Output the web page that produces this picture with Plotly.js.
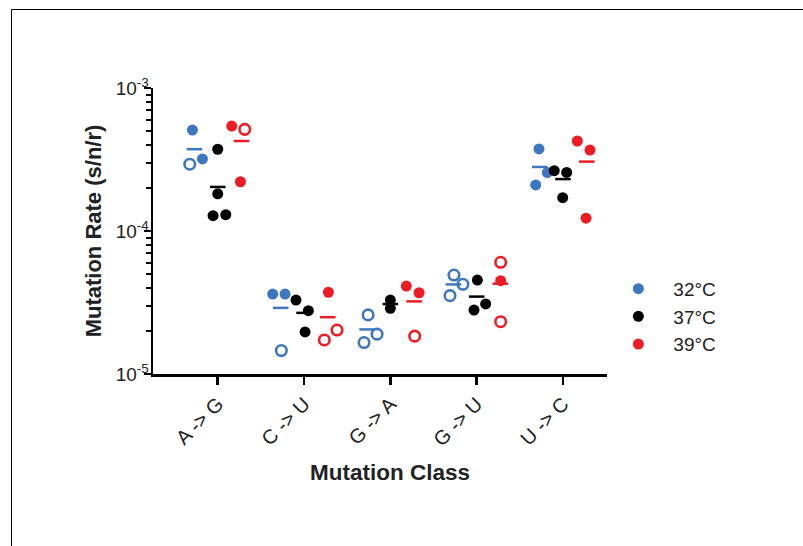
<!DOCTYPE html>
<html>
<head>
<meta charset="utf-8">
<script src="https://cdn.plot.ly/plotly-3.0.1.min.js"></script>
<style>html,body{margin:0;padding:0;background:#fff}#chart{width:803px;height:546px}</style>
</head>
<body>
<div id="chart"></div>
<script>
// ---- data ----
var categories = ['A -> G', 'C -> U', 'G -> A', 'G -> U', 'U -> C'];
var seriesNames = ['32°C', '37°C', '39°C'];

// mutation rates per category (s/n/r)
var rate32 = [[5.08e-4, 3.19e-4, 2.93e-4], [3.62e-5, 3.62e-5, 1.46e-5], [2.59e-5, 1.90e-5, 1.66e-5], [4.92e-5, 4.24e-5, 3.53e-5], [3.75e-4, 2.56e-4, 2.10e-4]];
var rate37 = [[3.73e-4, 1.82e-4, 1.28e-4, 1.30e-4], [3.29e-5, 2.77e-5, 1.97e-5], [3.29e-5, 2.88e-5], [4.54e-5, 3.09e-5, 2.80e-5], [2.64e-4, 2.57e-4, 1.71e-4]];
var rate39 = [[5.42e-4, 5.14e-4, 2.21e-4], [3.73e-5, 2.03e-5, 1.73e-5], [4.12e-5, 3.70e-5, 1.84e-5], [6.04e-5, 4.49e-5, 2.32e-5], [4.26e-4, 3.68e-4, 1.23e-4]];

// which points are drawn as open circles (1 = open)
var open32 = [[0, 0, 1], [0, 0, 1], [1, 1, 1], [1, 1, 1], [0, 0, 0]];
var open37 = [[0, 0, 0, 0], [0, 0, 0], [0, 0], [0, 0, 0], [0, 0, 0]];
var open39 = [[0, 1, 0], [0, 1, 1], [0, 0, 1], [1, 0, 1], [0, 0, 0]];

// horizontal scatter of points within their group
var jitter32 = [[-0.023, 0.093, -0.054], [-0.093, 0.05, 0.007], [0.012, 0.116, -0.035], [0.007, 0.111, -0.039], [-0.008, 0.088, -0.046]];
var jitter37 = [[0, 0, -0.054, 0.093], [-0.093, 0.05, 0.012], [0, 0], [0.008, 0.104, -0.031], [-0.101, 0.043, -0.003]];
var jitter39 = [[-0.113, 0.038, -0.012], [0.007, 0.107, -0.04], [-0.09, 0.058, 0.007], [0.003, 0.003, 0.003], [-0.109, 0.038, -0.008]];

var yTickVals = [1e-5, 1e-4, 1e-3];
var yTickText = ['10<sup>-5</sup>', '10<sup>-4</sup>', '10<sup>-3</sup>'];

// ---- styling ----
var colors = ['#3f76c0', '#000000', '#ec1c24'];
var groupOffset = [-0.27, 0, 0.275];
var halfBar = 0.09;
var fontFam = '"Liberation Sans", Arial, Helvetica, sans-serif';

var rates = [rate32, rate37, rate39];
var opens = [open32, open37, open39];
var jitters = [jitter32, jitter37, jitter39];

var traces = [];
for (var s = 0; s < 3; s++) {
  var fx = [], fy = [], ox = [], oy = [], mx = [], my = [];
  for (var c = 0; c < categories.length; c++) {
    var vals = rates[s][c], sum = 0;
    for (var k = 0; k < vals.length; k++) {
      var xp = c + groupOffset[s] + jitters[s][c][k];
      if (opens[s][c][k]) { ox.push(xp); oy.push(vals[k]); }
      else { fx.push(xp); fy.push(vals[k]); }
      sum += vals[k];
    }
    var mean = sum / vals.length;
    mx.push(c + groupOffset[s] - halfBar, c + groupOffset[s] + halfBar, null);
    my.push(mean, mean, null);
  }
  traces.push({
    x: mx, y: my, type: 'scatter', mode: 'lines', showlegend: false,
    line: {color: colors[s], width: 2.5}, hoverinfo: 'skip', cliponaxis: false
  });
  traces.push({
    x: fx, y: fy, type: 'scatter', mode: 'markers', name: seriesNames[s],
    legendgroup: 'g' + s, cliponaxis: false,
    marker: {symbol: 'circle', size: 11, color: colors[s]}
  });
  traces.push({
    x: ox, y: oy, type: 'scatter', mode: 'markers', name: seriesNames[s],
    legendgroup: 'g' + s, showlegend: false, cliponaxis: false,
    marker: {symbol: 'circle-open', size: 10.5, color: colors[s], line: {color: colors[s], width: 2.6}}
  });
}

var minorVals = [];
for (var d = -5; d < -3; d++) {
  for (var m = 2; m <= 9; m++) minorVals.push(m * Math.pow(10, d));
}

var layout = {
  width: 803, height: 546,
  margin: {l: 153, r: 196, t: 88, b: 172},
  paper_bgcolor: '#ffffff', plot_bgcolor: '#ffffff',
  font: {family: fontFam, color: '#222222', size: 19},
  showlegend: true,
  legend: {
    x: 0.992, xanchor: 'left', y: 0.2, yanchor: 'middle',
    itemwidth: 60, traceorder: 'grouped', tracegroupgap: 0,
    font: {family: fontFam, size: 19, color: '#222222'},
    bgcolor: 'rgba(0,0,0,0)'
  },
  xaxis: {
    range: [-0.75, 4.51], showgrid: false, zeroline: false,
    showline: true, linecolor: '#000', linewidth: 2.5,
    tickmode: 'array', tickvals: categories.map(function (_, i) { return i; }), ticktext: categories,
    ticks: 'outside', ticklen: 8, tickwidth: 2.5, tickcolor: '#000',
    tickangle: -45, tickfont: {family: fontFam, size: 20, color: '#222222'},
    fixedrange: true
  },
  yaxis: {
    type: 'log', range: [-5, -3], showgrid: false, zeroline: false,
    showline: true, linecolor: '#000', linewidth: 2.5,
    tickmode: 'array', tickvals: yTickVals, ticktext: yTickText,
    ticks: 'outside', ticklen: 7, tickwidth: 2.5, tickcolor: '#000',
    ticklabelstandoff: -9,
    tickfont: {family: fontFam, size: 19, color: '#222222'},
    minor: {tickmode: 'array', tickvals: minorVals, ticks: 'outside', ticklen: 5, tickwidth: 2, tickcolor: '#000', showgrid: false},
    title: {text: '<b>Mutation Rate (s/n/r)</b>', font: {family: fontFam, size: 22, color: '#222222'}, standoff: 8},
    fixedrange: true
  },
  annotations: [{
    text: '<b>Mutation Class</b>', xref: 'x', yref: 'paper',
    x: (categories.length - 1) / 2, y: -0.3427, xanchor: 'center', yanchor: 'middle',
    showarrow: false, font: {family: fontFam, size: 22.5, color: '#222222'}
  }],
  shapes: [
    {type: 'line', xref: 'paper', yref: 'paper', x0: -0.3117, x1: 1.5, y0: 1.2745, y1: 1.2745, line: {color: '#000', width: 1}},
    {type: 'line', xref: 'paper', yref: 'paper', x0: -0.3117, x1: -0.3117, y0: 1.2745, y1: -0.7, line: {color: '#000', width: 1}}
  ]
};

Plotly.newPlot('chart', traces, layout, {displayModeBar: false, staticPlot: true});
</script>
</body>
</html>
